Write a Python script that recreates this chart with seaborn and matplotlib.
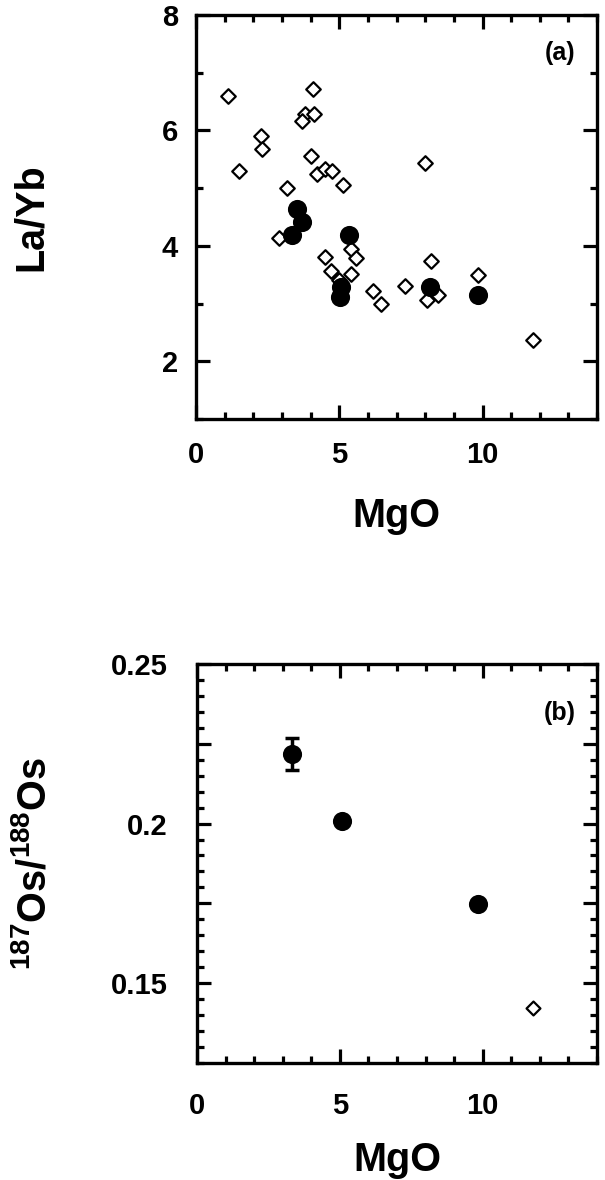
import matplotlib
matplotlib.use("Agg")
import matplotlib.pyplot as plt
import seaborn as sns
import pandas as pd
from matplotlib.ticker import MultipleLocator, FixedLocator, FuncFormatter

# ---- Data: panel (a) La/Yb vs MgO ----
open_mgo = [1.10, 1.49, 2.27, 2.31, 3.17, 4.08, 3.81, 3.69, 4.13, 4.00, 4.21, 4.50,
            4.75, 5.13, 8.00, 2.91, 4.49, 4.72, 4.98, 5.41, 5.58, 5.41, 6.16, 6.46,
            7.31, 8.19, 8.07, 8.44, 9.83, 11.76]
open_layb = [6.60, 5.30, 5.90, 5.68, 5.00, 6.72, 6.28, 6.16, 6.28, 5.55, 5.25, 5.34,
             5.30, 5.05, 5.44, 4.13, 3.80, 3.57, 3.41, 3.95, 3.79, 3.51, 3.22, 3.00,
             3.30, 3.74, 3.07, 3.15, 3.50, 2.37]
filled_mgo = [3.51, 3.71, 3.35, 5.35, 5.07, 5.04, 8.15, 9.83]
filled_layb = [4.64, 4.41, 4.18, 4.19, 3.28, 3.11, 3.28, 3.14]

# ---- Data: panel (b) 187Os/188Os vs MgO ----
os_filled_mgo = [3.34, 5.09, 9.84]
os_filled_ratio = [0.2218, 0.2007, 0.1747]
os_filled_err = [0.0050, 0.0, 0.0]
os_open_mgo = [11.76]
os_open_ratio = [0.1423]

sns.set_style("ticks")
plt.rcParams['font.family'] = ['Liberation Sans', 'DejaVu Sans']
plt.rcParams['font.weight'] = 'bold'
plt.rcParams['text.color'] = 'black'
plt.rcParams['axes.labelcolor'] = 'black'
plt.rcParams['xtick.color'] = 'black'
plt.rcParams['ytick.color'] = 'black'
plt.rcParams['xtick.labelcolor'] = 'black'
plt.rcParams['ytick.labelcolor'] = 'black'
plt.rcParams['mathtext.fontset'] = 'custom'
plt.rcParams['mathtext.rm'] = 'Liberation Sans:bold'
plt.rcParams['mathtext.it'] = 'Liberation Sans:bold'
plt.rcParams['mathtext.bf'] = 'Liberation Sans:bold'
plt.rcParams['mathtext.default'] = 'rm'

fig = plt.figure(figsize=(6.05, 11.8), dpi=100)
ax1 = fig.add_axes([0.324, 0.6449, 0.663, 0.3424])
ax2 = fig.add_axes([0.3256, 0.0992, 0.661, 0.3381])

df_open = pd.DataFrame({"MgO": open_mgo, "LaYb": open_layb})
df_fill = pd.DataFrame({"MgO": filled_mgo, "LaYb": filled_layb})
sns.scatterplot(data=df_open, x="MgO", y="LaYb", ax=ax1, marker="D", s=55,
                facecolor="white", edgecolor="black", linewidth=1.6, zorder=3)
sns.scatterplot(data=df_fill, x="MgO", y="LaYb", ax=ax1, marker="o", s=190,
                color="black", edgecolor="black", linewidth=0, zorder=4)

df_os_f = pd.DataFrame({"MgO": os_filled_mgo, "Os": os_filled_ratio})
df_os_o = pd.DataFrame({"MgO": os_open_mgo, "Os": os_open_ratio})
ax2.errorbar(os_filled_mgo, os_filled_ratio, yerr=os_filled_err, fmt="none",
             ecolor="black", elinewidth=2.5, capsize=5, capthick=2.5, zorder=2)
sns.scatterplot(data=df_os_f, x="MgO", y="Os", ax=ax2, marker="o", s=190,
                color="black", edgecolor="black", linewidth=0, zorder=4)
sns.scatterplot(data=df_os_o, x="MgO", y="Os", ax=ax2, marker="D", s=50,
                facecolor="white", edgecolor="black", linewidth=1.6, zorder=3)

for ax in (ax1, ax2):
    ax.set_xlim(0, 14)
    ax.xaxis.set_major_locator(MultipleLocator(5))
    ax.xaxis.set_minor_locator(MultipleLocator(1))
    for s in ax.spines.values():
        s.set_linewidth(2.4)
        s.set_color("black")
    ax.tick_params(which="both", direction="in", top=True, right=True,
                   width=2.3, color="black", labelcolor="black")
    ax.tick_params(which="major", length=10, labelsize=21)
    ax.tick_params(which="minor", length=5)
    ax.set_xlabel("MgO", fontsize=28.5, fontweight="bold", color="black")

ax1.set_ylim(1, 8)
ax1.yaxis.set_major_locator(MultipleLocator(2))
ax1.yaxis.set_minor_locator(MultipleLocator(1))
ax1.tick_params(axis="y", which="major", pad=13)
ax1.tick_params(axis="x", which="major", pad=15.8)
ax1.set_ylabel("La/Yb", fontsize=28.5, fontweight="bold", color="black")
ax1.yaxis.set_label_coords(-0.365, 0.5)
ax1.xaxis.set_label_coords(0.5, -0.194)
ax1.text(0.945, 0.905, "(a)", transform=ax1.transAxes, ha="right", va="center",
         fontsize=18, fontweight="bold", color="black")

ax2.set_ylim(0.125, 0.25)
ax2.yaxis.set_major_locator(FixedLocator([0.15, 0.175, 0.2, 0.225, 0.25]))
ax2.yaxis.set_minor_locator(MultipleLocator(0.005))
ax2.yaxis.set_major_formatter(FuncFormatter(
    lambda v, p: ("%g" % round(v, 3)) if abs(round(v / 0.05) * 0.05 - v) < 1e-6 else ""))
ax2.tick_params(axis="y", which="major", pad=21)
ax2.tick_params(axis="x", which="major", pad=20.9)
ax2.set_ylabel("$^{187}$Os/$^{188}$Os", fontsize=28.5, fontweight="bold", color="black")
ax2.yaxis.set_label_coords(-0.359, 0.5)
ax2.xaxis.set_label_coords(0.5, -0.1955)
ax2.text(0.947, 0.876, "(b)", transform=ax2.transAxes, ha="right", va="center",
         fontsize=18, fontweight="bold", color="black")

for ax in (ax1, ax2):
    for lab in ax.get_xticklabels() + ax.get_yticklabels():
        lab.set_fontweight("bold")

fig.savefig("out.png", dpi=100)
